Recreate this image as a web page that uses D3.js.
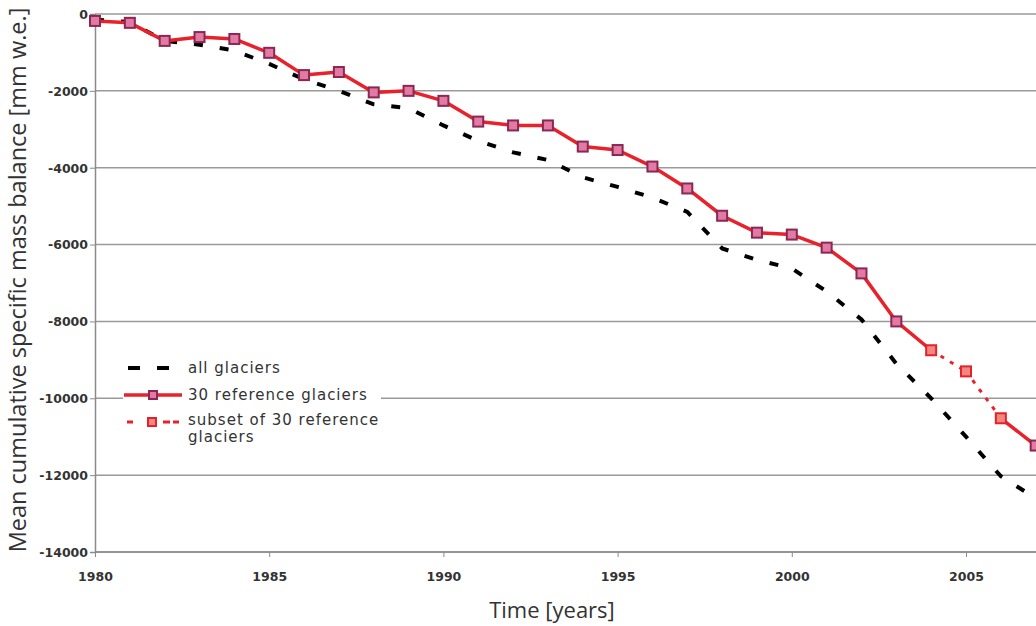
<!DOCTYPE html>
<html><head><meta charset="utf-8">
<script src="https://cdn.jsdelivr.net/npm/d3@7"></script>
<style>body{margin:0;background:#fff;}svg{display:block;}</style>
</head><body>
<script>
const years = [1980,1981,1982,1983,1984,1985,1986,1987,1988,1989,1990,1991,1992,1993,1994,1995,1996,1997,1998,1999,2000,2001,2002,2003,2004,2005,2006,2007];
const allGlaciers = [-150,-210,-700,-800,-950,-1300,-1700,-2000,-2350,-2450,-2900,-3300,-3600,-3800,-4250,-4500,-4780,-5150,-6100,-6400,-6620,-7220,-7950,-9100,-10000,-11000,-12030,-12600];
const ref30 = [-180,-230,-700,-600,-650,-1010,-1590,-1510,-2040,-2000,-2260,-2800,-2900,-2900,-3450,-3540,-3970,-4540,-5250,-5690,-5740,-6080,-6750,-8000,-8750,-9300,-10520,-11230];
const subsetYears = [2004,2005,2006];
const xTicks = [1980,1985,1990,1995,2000,2005];
const yTicks = [0,-2000,-4000,-6000,-8000,-10000,-12000,-14000];
const legendLabels = ["all glaciers","30 reference glaciers",["subset of 30 reference","glaciers"]];

const W = 1036, H = 626;
const svg = d3.select("body").append("svg").attr("width",W).attr("height",H);
const x = d3.scaleLinear().domain([1980,2005]).range([95,966]);
const y = d3.scaleLinear().domain([-14000,0]).range([552,14]);

// gridlines
svg.append("g").selectAll("line").data(yTicks).join("line")
  .attr("x1",95).attr("x2",W).attr("y1",d=>y(d)).attr("y2",d=>y(d))
  .attr("stroke","#9a9a9a").attr("stroke-width",1.5);

// left axis
const yAxis = svg.append("g").attr("transform","translate(95,0)")
  .call(d3.axisLeft(y).tickValues(yTicks).tickSize(5).tickFormat(d=>String(d)));
yAxis.select(".domain").attr("stroke","#8a8a8a").attr("stroke-width",1.5);
yAxis.selectAll(".tick line").attr("stroke","#8a8a8a");
yAxis.selectAll("text").attr("font-family","DejaVu Sans").attr("font-weight","bold")
  .attr("font-size",12.5).attr("fill","#333").attr("x",-7).attr("dy","0.35em");

// bottom axis
const xAxis = svg.append("g").attr("transform","translate(0,552)")
  .call(d3.axisBottom(x).tickValues(xTicks).tickSize(5).tickFormat(d=>String(d)));
xAxis.select(".domain").remove();
xAxis.append("line").attr("x1",95).attr("x2",W).attr("stroke","#8a8a8a").attr("stroke-width",1.5);
xAxis.selectAll(".tick line").attr("stroke","#8a8a8a");
xAxis.selectAll("text").attr("font-family","DejaVu Sans").attr("font-weight","bold")
  .attr("font-size",12.5).attr("fill","#333").attr("y",20);

// titles
svg.append("text").attr("x",552).attr("y",618).attr("text-anchor","middle")
  .attr("font-family","Open Sans").attr("font-size",22).attr("fill","#333").text("Time [years]");
svg.append("text").attr("transform","translate(26,280) rotate(-90)").attr("text-anchor","middle")
  .attr("font-family","Open Sans").attr("font-size",23.5).attr("fill","#333")
  .text("Mean cumulative specific mass balance [mm w.e.]");

const pts = years.map((yr,i)=>({yr, all:allGlaciers[i], ref:ref30[i], sub:subsetYears.includes(yr)}));

// all glaciers dashed
svg.append("path").datum(pts).attr("fill","none").attr("stroke","#000").attr("stroke-width",4)
  .attr("stroke-dasharray","9,17")
  .attr("d",d3.line().x(d=>x(d.yr)).y(d=>y(d.all)));

// ref series segments
const segs = [];
for(let i=0;i<pts.length-1;i++) segs.push({a:pts[i],b:pts[i+1],dotted:pts[i].sub&&pts[i+1].sub});
const line = d3.line().x(d=>x(d.yr)).y(d=>y(d.ref));
svg.append("g").selectAll("path").data(segs).join("path")
  .attr("fill","none").attr("stroke","#e8212b")
  .attr("stroke-width",d=>d.dotted?3:3.5)
  .attr("stroke-dasharray",d=>d.dotted?"4,7":null)
  .attr("d",d=>line([d.a,d.b]));

// markers
const ms = 10;
svg.append("g").selectAll("rect").data(pts).join("rect")
  .attr("x",d=>x(d.yr)-ms/2).attr("y",d=>y(d.ref)-ms/2).attr("width",ms).attr("height",ms)
  .attr("fill",d=>d.sub?"#f2877f":"#e27aa4").attr("stroke",d=>d.sub?"#e3222b":"#8a2753").attr("stroke-width",2);

// legend
const lg = svg.append("g");
lg.append("rect").attr("x",123).attr("y",355).attr("width",258).attr("height",92).attr("fill","#fff");
const lf = {"font-family":"DejaVu Sans","font-size":15,"fill":"#333","letter-spacing":"1px"};
function txt(t,xx,yy){const e=lg.append("text").attr("x",xx).attr("y",yy).text(t);for(const k in lf)e.attr(k,lf[k]);return e;}
lg.append("line").attr("x1",128).attr("x2",172).attr("y1",368).attr("y2",368).attr("stroke","#000").attr("stroke-width",4).attr("stroke-dasharray","12,17");
txt(legendLabels[0],188,373);
lg.append("line").attr("x1",124).attr("x2",182).attr("y1",395).attr("y2",395).attr("stroke","#e8212b").attr("stroke-width",3.5);
lg.append("rect").attr("x",149).attr("y",391).attr("width",8).attr("height",8).attr("fill","#e27aa4").attr("stroke","#8a2753").attr("stroke-width",2);
txt(legendLabels[1],188,400);
lg.append("line").attr("x1",127).attr("x2",181).attr("y1",422).attr("y2",422).attr("stroke","#e8212b").attr("stroke-width",3).attr("stroke-dasharray","6,19,0,11,7,3");
lg.append("rect").attr("x",148).attr("y",418).attr("width",8).attr("height",8).attr("fill","#f2877f").attr("stroke","#e3222b").attr("stroke-width",2);
txt(legendLabels[2][0],188,425);
txt(legendLabels[2][1],188,442);
</script>
</body></html>
